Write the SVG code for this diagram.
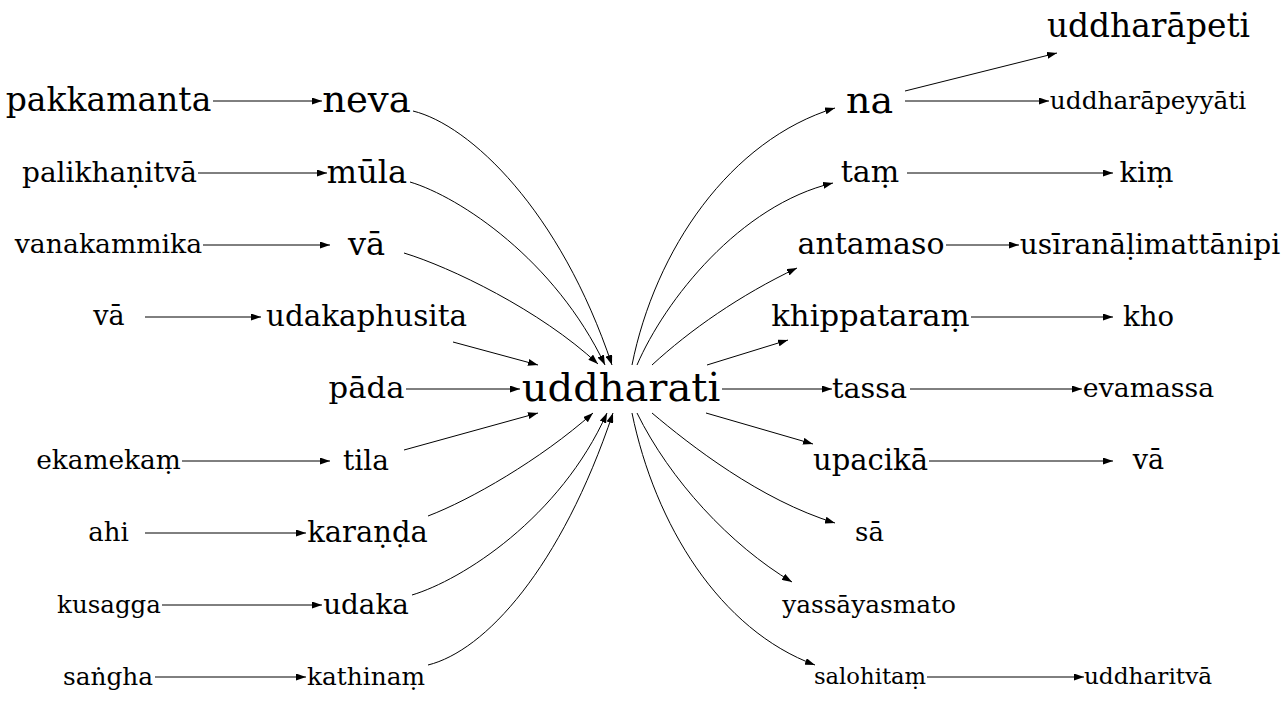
<svg xmlns="http://www.w3.org/2000/svg" width="1285" height="707" viewBox="0 0 1285 707">
<defs>
<marker id="ah" viewBox="0 0 10 7" refX="10" refY="3.5" markerWidth="10" markerHeight="7" markerUnits="userSpaceOnUse" orient="auto">
<path d="M0,0 L10,3.5 L0,7 Z" fill="#000"/>
</marker>
<style>
text{font-family:"DejaVu Serif","Liberation Serif",serif;fill:#000;text-anchor:middle}
.e{fill:none;stroke:#000;stroke-width:1;marker-end:url(#ah)}
</style>
</defs>
<rect width="1285" height="707" fill="#fff"/>
<g id="edges">
<path class="e" d="M213,101 L322,101"/>
<path class="e" d="M198,173 L327,173"/>
<path class="e" d="M203,245 L330,245"/>
<path class="e" d="M145,317 L261,317"/>
<path class="e" d="M182,461 L330,461"/>
<path class="e" d="M145,533 L306,533"/>
<path class="e" d="M162,605 L322,605"/>
<path class="e" d="M155,677 L306,677"/>
<path class="e" d="M413,111 C470,125 560,210 612,365"/>
<path class="e" d="M410,182 C460,197 555,260 605,365"/>
<path class="e" d="M404,253 C450,267 540,310 598,364"/>
<path class="e" d="M453,342 L538,365"/>
<path class="e" d="M406,389 L520,389"/>
<path class="e" d="M404,450 L538,413"/>
<path class="e" d="M428,516 C470,500 540,460 593,413"/>
<path class="e" d="M412,595 C462,580 560,518 607,413"/>
<path class="e" d="M428,665 C485,651 561,568 613,413"/>
<path class="e" d="M632,365 C655,250 730,140 835,108"/>
<path class="e" d="M637,365 C665,300 740,205 833,183"/>
<path class="e" d="M652,365 C690,330 740,295 797,268"/>
<path class="e" d="M707,365 L788,340"/>
<path class="e" d="M722,389 L832,389"/>
<path class="e" d="M706,413 L813,444"/>
<path class="e" d="M652,413 C690,445 760,500 835,523"/>
<path class="e" d="M637,413 C670,480 730,545 792,582"/>
<path class="e" d="M632,413 C655,525 720,630 815,665"/>
<path class="e" d="M905,91 L1057,53"/>
<path class="e" d="M905,101 L1049,101"/>
<path class="e" d="M907,173 L1113,173"/>
<path class="e" d="M946,245 L1019,245"/>
<path class="e" d="M971,317 L1113,317"/>
<path class="e" d="M910,389 L1082,389"/>
<path class="e" d="M929,461 L1113,461"/>
<path class="e" d="M927,677 L1084,677"/>
</g>
<g id="n_pakkamanta"><text x="108.5" y="111" font-size="33">pakkamanta</text></g>
<g id="n_palikhanitva"><text x="109.5" y="181.5" font-size="28">palikhaṇitvā</text></g>
<g id="n_vanakammika"><text x="108.5" y="253" font-size="26.7">vanakammika</text></g>
<g id="n_va0"><text x="109" y="325" font-size="27">vā</text></g>
<g id="n_ekamekam"><text x="108.5" y="469" font-size="26.4">ekamekaṃ</text></g>
<g id="n_ahi"><text x="108.5" y="541" font-size="26">ahi</text></g>
<g id="n_kusagga"><text x="109" y="612.5" font-size="24.5">kusagga</text></g>
<g id="n_sangha"><text x="108" y="684.5" font-size="24.8">saṅgha</text></g>
<g id="n_neva"><text x="366.5" y="112" font-size="37">neva</text></g>
<g id="n_mula"><text x="367" y="182.5" font-size="32">mūla</text></g>
<g id="n_va1"><text x="366.5" y="254.5" font-size="32">vā</text></g>
<g id="n_udakaphusita"><text x="366.5" y="326" font-size="29.4">udakaphusita</text></g>
<g id="n_pada"><text x="366.5" y="398" font-size="30.7">pāda</text></g>
<g id="n_tila"><text x="366" y="469.5" font-size="28">tila</text></g>
<g id="n_karanda"><text x="367.5" y="541.5" font-size="29">karaṇḍa</text></g>
<g id="n_udaka"><text x="366" y="613.5" font-size="27.8">udaka</text></g>
<g id="n_kathinam"><text x="366" y="684.5" font-size="24.8">kathinaṃ</text></g>
<g id="n_uddharati"><text x="621" y="401" font-size="40">uddharati</text></g>
<g id="n_na"><text x="869.5" y="112.5" font-size="38">na</text></g>
<g id="n_tam"><text x="870" y="182" font-size="30">taṃ</text></g>
<g id="n_antamaso"><text x="871" y="254" font-size="30">antamaso</text></g>
<g id="n_khippataram"><text x="870.5" y="326" font-size="30.7">khippataraṃ</text></g>
<g id="n_tassa"><text x="869.5" y="397.5" font-size="28.6">tassa</text></g>
<g id="n_upacika"><text x="870.5" y="469.5" font-size="29">upacikā</text></g>
<g id="n_sa"><text x="869.5" y="541" font-size="26">sā</text></g>
<g id="n_yassayasmato"><text x="869" y="612.5" font-size="24.8">yassāyasmato</text></g>
<g id="n_salohitam"><text x="870" y="684" font-size="22.7">salohitaṃ</text></g>
<g id="n_uddharapeti"><text x="1148.5" y="37" font-size="32.8">uddharāpeti</text></g>
<g id="n_uddharapeyyati"><text x="1148" y="108.5" font-size="24.8">uddharāpeyyāti</text></g>
<g id="n_kim"><text x="1146.5" y="181.5" font-size="28.7">kiṃ</text></g>
<g id="n_usiranalimattanipi"><text x="1150" y="253.5" font-size="28">usīranāḷimattānipi</text></g>
<g id="n_kho"><text x="1148.5" y="325.5" font-size="27.5">kho</text></g>
<g id="n_evamassa"><text x="1148.5" y="397" font-size="26.7">evamassa</text></g>
<g id="n_va2"><text x="1148.5" y="469" font-size="27">vā</text></g>
<g id="n_uddharitva"><text x="1148" y="684" font-size="23.2">uddharitvā</text></g>
</svg>
